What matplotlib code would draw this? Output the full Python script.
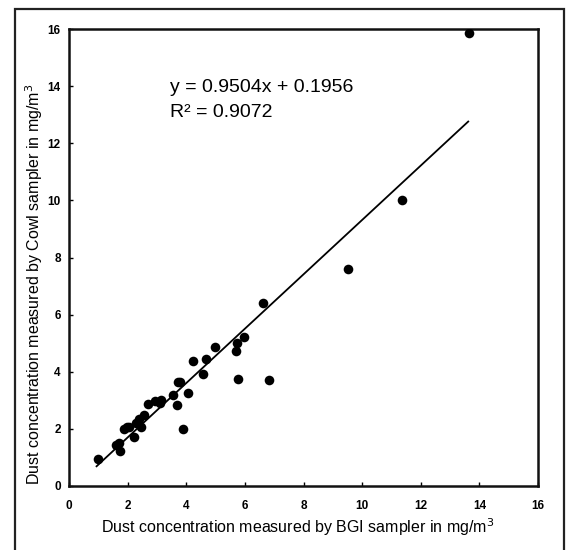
import matplotlib
matplotlib.use("Agg")
import matplotlib.pyplot as plt
from matplotlib.patches import Rectangle

plt.rcParams['font.family'] = ['Liberation Sans', 'DejaVu Sans']

# Data
bgi = [1.0, 1.6, 1.7, 1.75, 1.88, 1.97, 2.05, 2.22, 2.3, 2.38, 2.45, 2.55, 2.7,
       2.92, 3.1, 3.14, 3.55, 3.68, 3.72, 3.8, 3.9, 4.07, 4.24, 4.57, 4.67, 4.98,
       5.7, 5.73, 5.78, 5.98, 6.63, 6.83, 9.53, 11.35, 13.66]
cowl = [0.93, 1.45, 1.5, 1.22, 1.98, 2.07, 2.05, 1.72, 2.2, 2.35, 2.05, 2.48, 2.87,
        2.99, 2.9, 3.0, 3.2, 2.85, 3.63, 3.63, 1.99, 3.24, 4.36, 3.92, 4.44, 4.86,
        4.74, 5.0, 3.76, 5.21, 6.42, 3.71, 7.61, 10.02, 15.86]
fit_x = [0.94, 13.62]
fit_y = [0.69, 12.76]
ticks = [0, 2, 4, 6, 8, 10, 12, 14, 16]
eq_lines = ["y = 0.9504x + 0.1956", "R\u00b2 = 0.9072"]

fig = plt.figure(figsize=(5.68, 5.5), dpi=100)
ax = fig.add_axes([69/568, 64/550, 469/568, 457/550])

ax.scatter(bgi, cowl, s=48, color='black', zorder=3, linewidths=0)
ax.plot(fit_x, fit_y, color='black', lw=1.3, zorder=2)

ax.set_xlim(0, 16)
ax.set_ylim(0, 16)
ax.set_xticks(ticks)
ax.set_yticks(ticks)
ax.set_xticklabels([str(t) for t in ticks], fontweight='bold', fontsize=8.5)
ax.set_yticklabels([str(t) for t in ticks], fontweight='bold', fontsize=8.5)
ax.tick_params(axis='both', direction='in', length=3, width=1, colors='black')
ax.tick_params(axis='x', pad=10)
ax.tick_params(axis='y', pad=6)
for sp in ax.spines.values():
    sp.set_linewidth(1.8)
    sp.set_color('#111111')

ax.text(0.215, 0.871, eq_lines[0], transform=ax.transAxes, fontsize=14,
        ha='left', va='center')
ax.text(0.215, 0.818, eq_lines[1], transform=ax.transAxes, fontsize=14,
        ha='left', va='center')

fig.text(298/568, (550-527)/550, "Dust concentration measured by BGI sampler in mg/m$^3$",
         ha='center', va='center', fontsize=11.5)
fig.text(34/568, (550-284)/550, "Dust concentration measured by Cowl sampler in mg/m$^3$",
         ha='center', va='center', rotation=90, fontsize=11.5)

fig.patches.append(Rectangle((15/568, -20/550), 549/568, 561/550, transform=fig.transFigure,
                             fill=False, edgecolor='#222222', linewidth=1.6))

fig.savefig("out.png", dpi=100)
